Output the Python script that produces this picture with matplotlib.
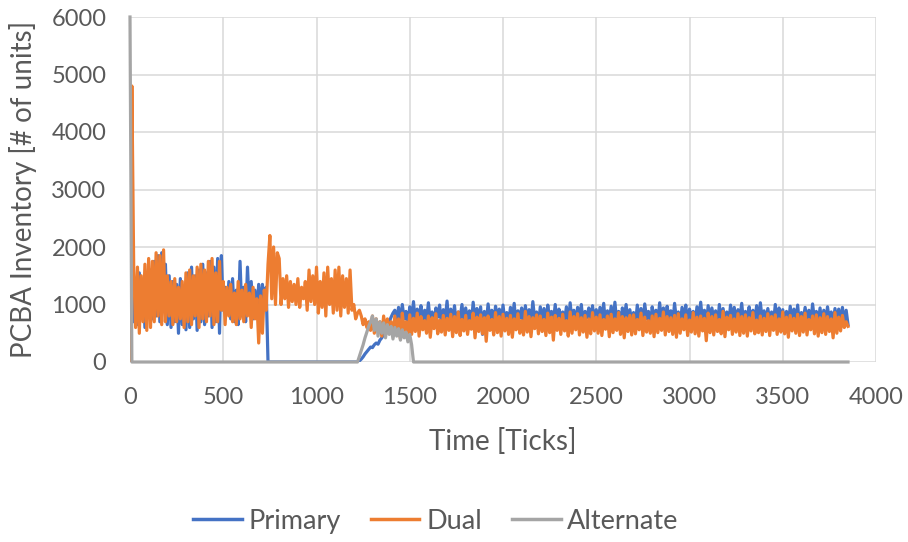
"""
PCBA inventory over simulation time for the three supplier setups
(Primary, Dual, Alternate). Values read off the original Excel chart
every 10 ticks.
"""

import matplotlib.pyplot as plt

# time axis, one sample every 10 ticks
TICKS = list(range(0, 3860, 10))

# Primary: noisy band until it empties at ~740, restarts at ~1230
PRIMARY_START = [
    1100, 1500, 700, 1400, 650, 1550, 800, 1300, 600, 1450,
    900, 1600, 750, 1750, 800, 1850, 700, 1900, 900, 1700,
    650, 1500, 600, 1400, 700, 1350, 500, 1450, 650, 1300,
    560, 1550, 600, 1650, 750, 1500, 550, 1600, 700, 1700,
    650, 1550, 800, 1750, 600, 1650, 700, 1800, 500, 1850,
    900, 1300, 850, 1400, 750, 1450, 700, 1250, 650, 1750,
    800, 1300, 700, 1650, 900, 1400, 750, 1250, 800, 1350,
    900, 1350, 1000, 1300,
]
PRIMARY_EMPTY = [0] * 49
PRIMARY_RAMP = [20, 50, 90, 140, 180, 220, 260, 250, 300, 330,
                310, 380, 420, 480, 550, 620, 700, 780, 850]
PRIMARY_STEADY = [
    900, 700, 950, 650, 1000, 750, 880, 620, 960, 720,
    1050, 680, 920, 760, 980, 640, 900, 710, 1030, 690,
    870, 600, 940, 780, 990, 660, 910, 730, 1060, 640,
    920, 700, 980, 610, 870, 760, 1000, 680, 940, 720,
    890, 650, 1040, 700, 930, 600, 960, 480, 880, 670,
    1010, 720, 900, 640, 970, 770, 920, 590, 990, 700,
    860, 680, 950, 730, 1020, 650, 890, 760, 940, 610,
    980, 700, 910, 660, 1050, 740, 870, 630, 960, 710,
    930, 620, 990, 750, 880, 690, 1000, 640, 920, 770,
    870, 700, 960, 600, 1030, 720, 900, 660, 950, 740,
    1000, 650, 880, 770, 940, 610, 980, 700, 910, 680,
    950, 740, 1020, 630, 890, 710, 970, 660, 1040, 690,
    880, 600, 940, 760, 1000, 670, 910, 720, 860, 640,
    990, 700, 930, 650, 1010, 750, 880, 610, 960, 730,
    900, 680, 1030, 710, 940, 620, 970, 760, 890, 660,
    1020, 720, 870, 640, 950, 700, 990, 580, 920, 750,
    880, 660, 960, 730, 1040, 690, 900, 620, 980, 710,
    940, 750, 890, 600, 1000, 680, 930, 720, 870, 650,
    990, 700, 950, 640, 910, 760, 1020, 670, 880, 730,
    960, 610, 900, 700, 980, 650, 1030, 740, 890, 680,
    930, 720, 870, 660, 1000, 600, 940, 750, 910, 690,
    880, 640, 970, 710, 920, 680, 990, 620, 860, 740,
    950, 700, 900, 650, 1010, 730, 880, 660, 940, 610,
    900, 690, 960, 720, 870, 640, 930, 700, 920, 680,
    950, 660, 900, 650,
]

# Dual
DUAL_START = [
    0, 4800, 1600, 600, 1650, 500, 1500, 700, 1700, 550,
    1800, 600, 1750, 700, 1900, 800, 1850, 650, 1950, 700,
    1500, 800, 1400, 650, 1450, 700, 1300, 750, 1400, 600,
    1550, 700, 1600, 650, 1500, 800, 1650, 600, 1700, 750,
    1600, 700, 1750, 800, 1800, 650, 1550, 700, 1750, 900,
    1400, 650, 1300, 800, 1350, 700, 1200, 650, 1400, 750,
    1250, 700, 1350, 800, 1200, 600, 1300, 750, 1100, 330,
    1150, 500, 1250, 900, 1700, 2200, 1100, 2000, 1000, 1900,
    1800, 1000, 1450, 1100, 1500, 950, 1400, 1050, 1350, 1000,
    1450, 950, 1300, 1100, 1400, 900, 1600, 1050, 1500, 1000,
    1650, 850, 1400, 950, 1550, 800, 1650, 1000, 1450, 850,
    1600, 900, 1650, 800, 1500, 950, 1450, 850, 1600, 900,
    1000, 750, 850, 900, 800, 650, 750, 600, 700, 550,
]
DUAL_STEADY = [
    800, 500, 750, 550, 700, 450, 800, 500, 750, 550,
    700, 450, 800, 500, 750, 400, 850, 550, 700, 500,
    820, 480, 760, 530, 850, 450, 790, 560, 720, 500,
    800, 430, 770, 580, 840, 490, 730, 520, 810, 470,
    760, 550, 830, 440, 790, 510, 870, 460, 740, 540,
    810, 480, 720, 570, 850, 420, 780, 530, 820, 490,
    770, 360, 800, 550, 740, 470, 860, 510, 790, 450,
    830, 540, 760, 480, 810, 430, 750, 560, 840, 500,
    720, 470, 880, 520, 790, 440, 770, 580, 820, 490,
    800, 530, 740, 460, 850, 510, 780, 380, 810, 550,
    760, 480, 830, 540, 720, 450, 870, 500, 790, 560,
    840, 470, 770, 520, 810, 430, 750, 490, 860, 540,
    780, 500, 820, 460, 740, 570, 800, 440, 830, 510,
    750, 550, 860, 480, 790, 420, 770, 530, 810, 470,
    820, 490, 740, 560, 850, 460, 780, 520, 720, 500,
    800, 440, 830, 510, 760, 550, 870, 470, 790, 530,
    770, 480, 810, 430, 840, 500, 750, 560, 820, 460,
    730, 520, 860, 490, 780, 450, 800, 540, 760, 370,
    850, 510, 790, 470, 820, 530, 740, 490, 880, 440,
    780, 560, 810, 480, 750, 520, 840, 460, 790, 500,
    820, 450, 770, 540, 860, 490, 730, 510, 800, 470,
    760, 530, 840, 460, 790, 550, 820, 480, 750, 520,
    870, 490, 780, 430, 810, 540, 760, 500, 830, 460,
    790, 520, 850, 470, 740, 560, 800, 490, 820, 450,
    770, 510, 840, 480, 790, 530, 750, 420, 860, 500,
    780, 540, 810, 600, 700, 620,
]

# Alternate: only active between ~1220 and ~1520
ALT_ACTIVE = [
    0, 100, 200, 300, 420, 520, 620, 700, 800, 550,
    750, 450, 700, 500, 680, 420, 650, 480, 620, 400,
    600, 450, 580, 380, 560, 420, 520, 350, 480, 300,
]

PRIMARY = PRIMARY_START + PRIMARY_EMPTY + PRIMARY_RAMP + PRIMARY_STEADY
DUAL = DUAL_START + DUAL_STEADY
ALTERNATE = [6000] + [0] * 121 + ALT_ACTIVE + [0] * 234

BLUE = '#4472C4'
ORANGE = '#ED7D31'
GRAY = '#A5A5A5'
TEXT = '#595959'
GRID = '#D9D9D9'
LW = 2.3

plt.rcParams['font.family'] = ['Lato', 'DejaVu Sans']

fig = plt.figure(figsize=(9.08, 5.42), dpi=100)
ax = fig.add_axes([130 / 908, 1 - 362 / 542, 746 / 908, 345 / 542])

ax.plot(TICKS, PRIMARY, color=BLUE, lw=LW, label='Primary')
ax.plot(TICKS, DUAL, color=ORANGE, lw=LW, label='Dual')
ax.plot(TICKS, ALTERNATE, color=GRAY, lw=LW, label='Alternate',
        clip_on=False)

ax.set_xlim(0, 4000)
ax.set_ylim(0, 6000)
ax.set_xticks(range(0, 4001, 500))
ax.set_yticks(range(0, 6001, 1000))
ax.grid(True, color=GRID, lw=1.1)
ax.set_axisbelow(True)
for s in ax.spines.values():
    s.set_visible(False)
ax.tick_params(axis='both', length=0, labelsize=17, labelcolor=TEXT)
ax.tick_params(axis='x', pad=18)
ax.tick_params(axis='y', pad=17)

ax.set_xlabel('Time [Ticks]', fontsize=20, color=TEXT)
ax.set_ylabel('PCBA Inventory [# of units]', fontsize=20, color=TEXT)
ax.xaxis.set_label_coords(0.5, -0.19)
ax.yaxis.set_label_coords(-0.125, 0.5)

leg = fig.legend(loc='center', bbox_to_anchor=(0.48, 0.038), ncol=3,
                 frameon=False, fontsize=19.5, handlelength=1.8,
                 handletextpad=0.25, columnspacing=1.1)
for line in leg.get_lines():
    line.set_linewidth(2.5)
for t in leg.get_texts():
    t.set_color(TEXT)

fig.savefig('out.png', dpi=100)
